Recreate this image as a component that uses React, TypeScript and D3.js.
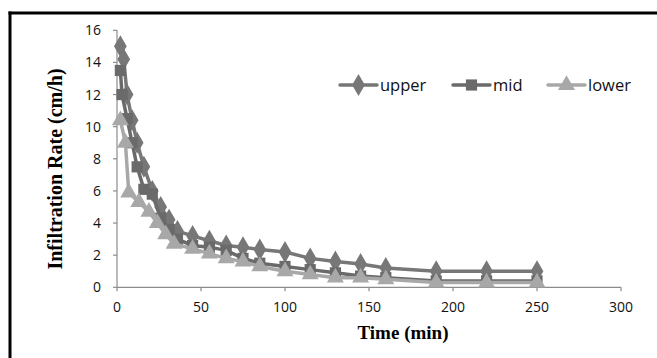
import React from "react";
import * as d3 from "d3";

const xTicks = [0, 50, 100, 150, 200, 250, 300];
const yTicks = [0, 2, 4, 6, 8, 10, 12, 14, 16];

const upperTime = [2, 4, 6, 9, 12, 16, 21, 26, 31, 36, 45, 55, 65, 75, 85, 100, 115, 130, 145, 160, 190, 220, 250];
const upperRate = [15.0, 14.2, 12.0, 10.4, 9.0, 7.5, 6.0, 5.0, 4.2, 3.5, 3.2, 2.9, 2.6, 2.5, 2.35, 2.2, 1.8, 1.6, 1.45, 1.2, 1.0, 1.0, 1.0];

const midTime = [2, 3, 6, 9, 12, 16, 21, 26, 31, 36, 45, 55, 65, 75, 85, 100, 115, 130, 145, 160, 190, 220, 250];
const midRate = [13.5, 12.0, 10.5, 9.0, 7.5, 6.1, 5.8, 4.3, 3.6, 3.0, 2.6, 2.5, 2.3, 1.8, 1.5, 1.3, 1.1, 0.9, 0.7, 0.6, 0.4, 0.4, 0.4];

const lowerTime = [2, 5, 7, 13, 19, 24, 29, 34, 45, 55, 65, 75, 85, 100, 115, 130, 145, 160, 190, 220, 250];
const lowerRate = [10.4, 9.0, 5.9, 5.3, 4.7, 4.0, 3.3, 2.7, 2.4, 2.1, 1.8, 1.6, 1.3, 1.0, 0.8, 0.6, 0.6, 0.5, 0.3, 0.3, 0.3];

const seriesNames = ["upper", "mid", "lower"];

export default function App() {
  const W = 657, H = 358;
  const x = d3.scaleLinear().domain([0, 300]).range([117, 621]);
  const y = d3.scaleLinear().domain([0, 16]).range([287.3, 30.3]);
  const line = d3.line<[number, number]>().x(d => x(d[0])).y(d => y(d[1]));

  const series = [
    { name: seriesNames[0], t: upperTime, v: upperRate, color: "#777777", shape: d3.symbolDiamond, size: 140 },
    { name: seriesNames[1], t: midTime, v: midRate, color: "#6a6a6a", shape: d3.symbolSquare, size: 125 },
    { name: seriesNames[2], t: lowerTime, v: lowerRate, color: "#a8a8a8", shape: d3.symbolTriangle, size: 125 },
  ];

  const legendX = [340, 453, 548];
  const legendY = 85;
  const axisColor = "#8c8c8c";
  const sans = "'Open Sans', 'Liberation Sans', Arial, sans-serif";
  const serif = "'Liberation Serif', 'Times New Roman', serif";

  return (
    <svg width={W} height={H} style={{ position: "absolute", left: 0, top: 0, background: "#fff" }}>
      <rect x={0} y={0} width={W} height={H} fill="#fff" />
      {/* frame */}
      <line x1={8.5} y1={13} x2={W} y2={13} stroke="#000" strokeWidth={3} />
      <line x1={10} y1={11.5} x2={10} y2={H} stroke="#000" strokeWidth={3} />

      {/* axes */}
      <line x1={x(0)} y1={y(16)} x2={x(0)} y2={y(0)} stroke={axisColor} strokeWidth={1.2} />
      <line x1={x(0)} y1={y(0)} x2={x(300)} y2={y(0)} stroke={axisColor} strokeWidth={1.2} />
      {yTicks.map(t => (
        <g key={"y" + t}>
          <line x1={x(0) - 4} x2={x(0)} y1={y(t)} y2={y(t)} stroke={axisColor} strokeWidth={1.2} />
          <text x={101} y={y(t)} dy="0.36em" textAnchor="end" fontFamily={sans} fontSize={14} fill="#111">{t}</text>
        </g>
      ))}
      {xTicks.map(t => (
        <g key={"x" + t}>
          <line x1={x(t)} x2={x(t)} y1={y(0)} y2={y(0) + 4} stroke={axisColor} strokeWidth={1.2} />
          <text x={x(t)} y={312} textAnchor="middle" fontFamily={sans} fontSize={14} fill="#111">{t}</text>
        </g>
      ))}

      {/* series */}
      {series.map(s => {
        const pts: [number, number][] = s.t.map((tt, i) => [tt, s.v[i]]);
        const sym = d3.symbol().type(s.shape).size(s.size)();
        return (
          <g key={s.name}>
            <path d={line(pts) || ""} fill="none" stroke={s.color} strokeWidth={3.5} strokeLinejoin="round" />
            {pts.map((p, i) => (
              <path key={i} d={sym || ""} transform={`translate(${x(p[0])},${y(p[1])})`} fill={s.color} />
            ))}
          </g>
        );
      })}

      {/* legend */}
      {series.map((s, i) => {
        const sym = d3.symbol().type(s.shape).size(s.size)();
        return (
          <g key={"lg" + s.name}>
            <line x1={legendX[i]} x2={legendX[i] + 37} y1={legendY} y2={legendY} stroke={s.color} strokeWidth={3.5} strokeLinecap="round" />
            <path d={sym || ""} transform={`translate(${legendX[i] + 18.5},${legendY})`} fill={s.color} />
            <text x={legendX[i] + 40} y={legendY} dy="0.36em" fontFamily={sans} fontSize={16.5} fill="#111">{s.name}</text>
          </g>
        );
      })}

      {/* axis titles */}
      <text x={403} y={339} textAnchor="middle" fontFamily={serif} fontWeight="bold" fontSize={19} fill="#000">Time (min)</text>
      <text transform={`translate(62,169) rotate(-90)`} textAnchor="middle" fontFamily={serif} fontWeight="bold" fontSize={20} fill="#000">Infiltration Rate (cm/h)</text>
    </svg>
  );
}
